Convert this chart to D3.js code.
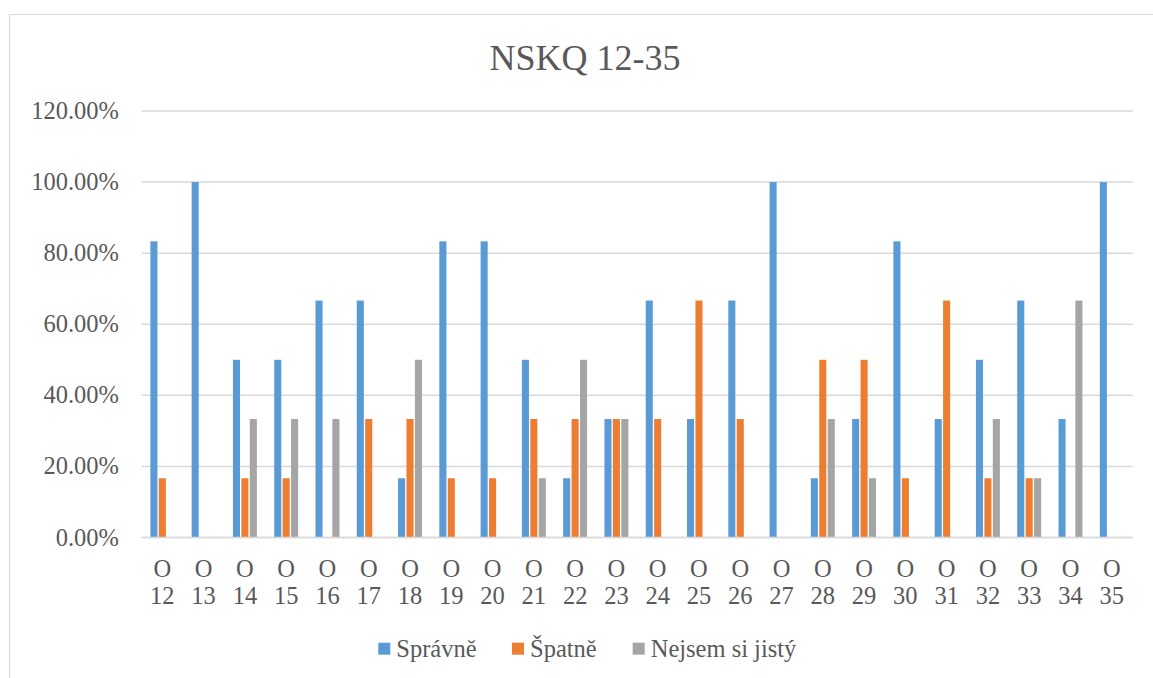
<!DOCTYPE html>
<html><head><meta charset="utf-8">
<script src="https://cdn.jsdelivr.net/npm/d3@7"></script>
<style>html,body{margin:0;padding:0;background:#fff;}</style>
</head><body>
<svg id="chart" width="1153" height="678"></svg>
<script>
const categories = ["12","13","14","15","16","17","18","19","20","21","22","23","24","25","26","27","28","29","30","31","32","33","34","35"];
const seriesNames = ["Správně","Špatně","Nejsem si jistý"];
const spravne = [83.33,100,50,50,66.67,66.67,16.67,83.33,83.33,50,16.67,33.33,66.67,33.33,66.67,100,16.67,33.33,83.33,33.33,50,66.67,33.33,100];
const spatne  = [16.67,0,16.67,16.67,0,33.33,33.33,16.67,16.67,33.33,33.33,33.33,33.33,66.67,33.33,0,50,50,16.67,66.67,16.67,16.67,0,0];
const nejsem  = [0,0,33.33,33.33,33.33,0,50,0,0,16.67,50,33.33,0,0,0,0,33.33,16.67,0,0,33.33,16.67,66.67,0];
const yTicks = [0,20,40,60,80,100,120];
const colors = ["#5B9BD5","#ED7D31","#A5A5A5"];
const series = [spravne, spatne, nejsem];

const svg = d3.select("#chart");
const font = "'Liberation Serif', 'Times New Roman', serif";
const textColor = "#595959";

// border
svg.append("path").attr("d","M9.5,678 L9.5,14.5 L1153,14.5").attr("fill","none").attr("stroke","#D9D9D9").attr("stroke-width",1.2);

const x0 = d3.scaleBand().domain(categories).range([141.7,1132.4]).paddingInner(0.42).paddingOuter(0.21);
const x1 = d3.scaleBand().domain(seriesNames).range([0, x0.bandwidth()]).paddingInner(0.16);
const y = d3.scaleLinear().domain([0,120]).range([537.5,111]);

// gridlines
svg.append("g").selectAll("line").data(yTicks).join("line")
  .attr("x1",141.7).attr("x2",1132.7)
  .attr("y1",d=>y(d)).attr("y2",d=>y(d))
  .attr("stroke","#D9D9D9").attr("stroke-width",1.5);

// y labels
svg.append("g").selectAll("text").data(yTicks).join("text")
  .attr("x",119).attr("y",d=>y(d)+8)
  .attr("text-anchor","end").attr("font-family",font).attr("font-size",24.5).attr("fill",textColor)
  .text(d=>d3.format(".2f")(d)+"%");

// bars
const g = svg.append("g");
categories.forEach((c,i)=>{
  series.forEach((s,j)=>{
    if (s[i] <= 0) return;
    g.append("rect")
      .attr("x", x0(c)+x1(seriesNames[j]))
      .attr("width", x1.bandwidth())
      .attr("y", y(s[i]))
      .attr("height", y(0)-y(s[i]))
      .attr("fill", colors[j]);
  });
});
// redraw baseline over bars
svg.append("line").attr("x1",141.7).attr("x2",1132.7).attr("y1",y(0)).attr("y2",y(0)).attr("stroke","#D9D9D9").attr("stroke-width",1.5);

// x labels
const xl = svg.append("g");
categories.forEach(c=>{
  const cx = x0(c)+x0.bandwidth()/2;
  const t = xl.append("text").attr("text-anchor","middle").attr("font-family",font).attr("font-size",24.5).attr("fill",textColor);
  t.append("tspan").attr("x",cx).attr("y",577).text("O");
  t.append("tspan").attr("x",cx).attr("y",604).text(c);
});

// title
svg.append("text").attr("x",585).attr("y",70).attr("text-anchor","middle")
  .attr("font-family",font).attr("font-size",36).attr("fill",textColor).text("NSKQ 12-35");

// legend
const legendX = [378.3, 512, 632.7];
const lg = svg.append("g");
seriesNames.forEach((n,j)=>{
  lg.append("rect").attr("x",legendX[j]).attr("y",642.7).attr("width",12).attr("height",12).attr("fill",colors[j]);
  lg.append("text").attr("x",legendX[j]+18).attr("y",657).attr("font-family",font).attr("font-size",24.5).attr("fill",textColor).text(n);
});
</script>
</body></html>
